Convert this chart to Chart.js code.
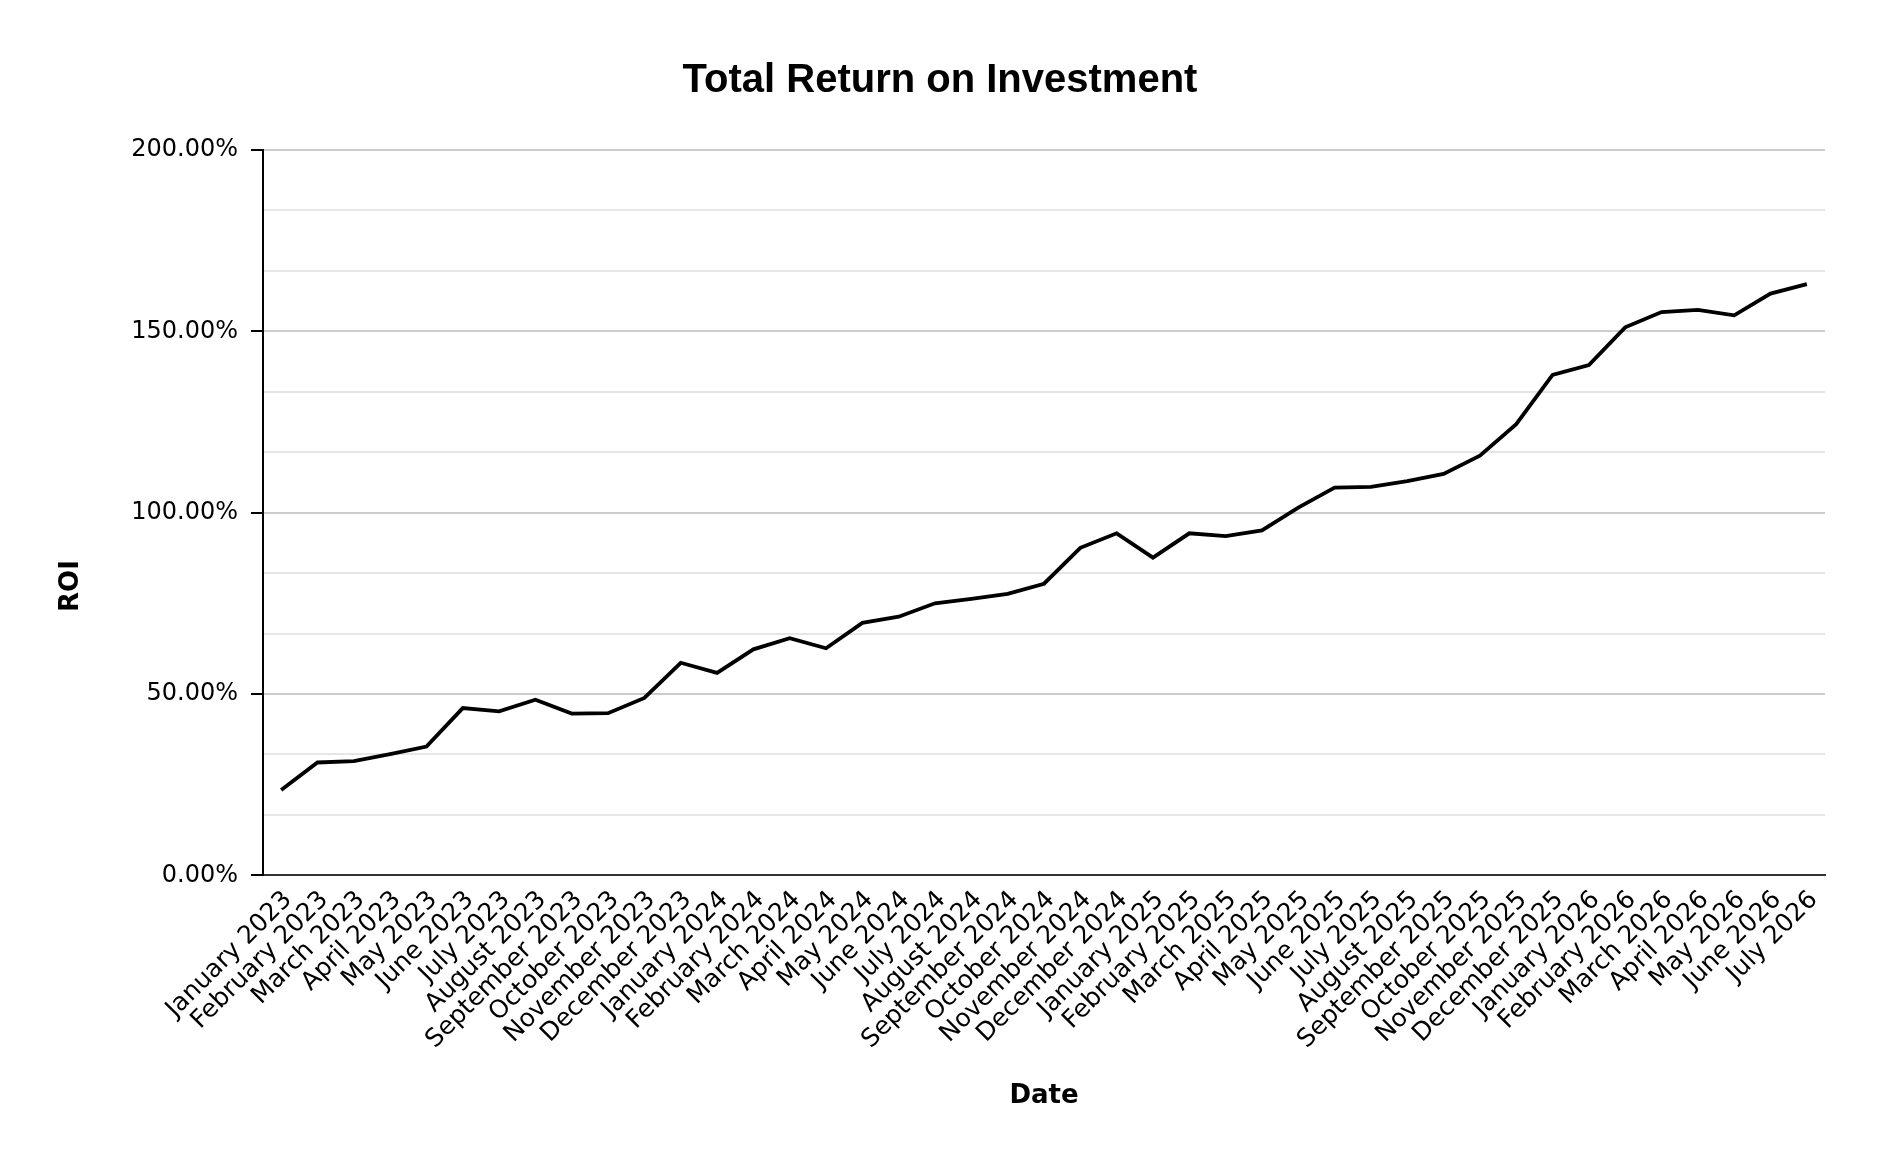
<!DOCTYPE html>
<html>
<head>
<meta charset="utf-8">
<title>Total Return on Investment</title>
<script src="https://cdn.jsdelivr.net/npm/chart.js@4.4.1/dist/chart.umd.min.js"></script>
<style>
    html, body { margin: 0; padding: 0; background: #fff; }
    #wrap { width: 1884px; height: 1166px; }
</style>
</head>
<body>
<div id="wrap"><canvas id="roiChart" width="1884" height="1166"></canvas></div>
<script>
// 月份标签
const dateLabels = [
    "January 2023", "February 2023", "March 2023", "April 2023", "May 2023", "June 2023",
    "July 2023", "August 2023", "September 2023", "October 2023", "November 2023", "December 2023",
    "January 2024", "February 2024", "March 2024", "April 2024", "May 2024", "June 2024",
    "July 2024", "August 2024", "September 2024", "October 2024", "November 2024", "December 2024",
    "January 2025", "February 2025", "March 2025", "April 2025", "May 2025", "June 2025",
    "July 2025", "August 2025", "September 2025", "October 2025", "November 2025", "December 2025",
    "January 2026", "February 2026", "March 2026", "April 2026", "May 2026", "June 2026",
    "July 2026"
];

// ROI (%)
const roiValues = [
    23.5, 31.1, 31.5, 33.4, 35.5, 46.1, 45.2, 48.4, 44.6, 44.7, 48.9, 58.6,
    55.8, 62.3, 65.4, 62.6, 69.6, 71.3, 75.0, 76.2, 77.6, 80.4, 90.3, 94.3,
    87.6, 94.3, 93.5, 95.1, 101.4, 106.9, 107.1, 108.7, 110.7, 115.7, 124.4, 138.0,
    140.7, 151.1, 155.3, 155.9, 154.4, 160.4, 163.0
];

// Y 轴刻度：主刻度带标签，次刻度只画浅色网格
const yMin = 0;
const yMax = 200;
const yMajorStep = 50;
const yMinorPerMajor = 3;

const FONT = "'DejaVu Sans', Verdana, sans-serif";

// y 轴标题居中于整个画布高度，用插件自己画
const roiTitlePlugin = {
    id: "roiTitle",
    afterDraw(chart) {
        const ctx = chart.ctx;
        ctx.save();
        ctx.translate(71, chart.height / 2 + 3);
        ctx.rotate(-Math.PI / 2);
        ctx.font = "bold 26px " + FONT;
        ctx.fillStyle = "#000";
        ctx.textAlign = "center";
        ctx.textBaseline = "middle";
        ctx.fillText("ROI", 0, 0);
        ctx.restore();
    }
};

Chart.defaults.font.family = FONT;
Chart.defaults.color = "#000";

const ctx = document.getElementById("roiChart").getContext("2d");
new Chart(ctx, {
    type: "line",
    data: {
        labels: dateLabels,
        datasets: [{
            label: "ROI",
            data: roiValues,
            borderColor: "#000",
            borderWidth: 3.8,
            pointRadius: 0,
            pointHoverRadius: 0,
            tension: 0,
            fill: false,
        }],
    },
    options: {
        responsive: false,
        devicePixelRatio: 1,
        animation: false,
        layout: { padding: { left: 55, right: 59, top: 0, bottom: 50 } },
        plugins: {
            legend: { display: false },
            tooltip: { enabled: false },
            title: {
                display: true,
                text: "Total Return on Investment",
                color: "#000",
                font: { family: "'Liberation Sans', Arial, sans-serif", size: 40, weight: "bold" },
                padding: { top: 57, bottom: 45 },
            },
        },
        scales: {
            x: {
                offset: true,
                grid: { display: true, drawOnChartArea: false, drawTicks: false },
                border: { display: true, color: "#333", width: 2 },
                ticks: {
                    autoSkip: false,
                    maxRotation: 45,
                    minRotation: 45,
                    padding: 10,
                    labelOffset: 7,
                    color: "#000",
                    font: { size: 25 },
                },
                title: {
                    display: true,
                    text: "Date",
                    color: "#000",
                    font: { size: 26, weight: "bold" },
                    padding: { top: 16, bottom: 4 },
                },
            },
            y: {
                min: yMin,
                max: yMax,
                afterBuildTicks(scale) {
                    const step = yMajorStep / yMinorPerMajor;
                    const n = Math.round((yMax - yMin) / step);
                    const ticks = [];
                    for (let i = 0; i <= n; i++) ticks.push({ value: yMin + i * step });
                    scale.ticks = ticks;
                },
                afterFit(scale) {
                    scale.width = 208;
                },
                grid: {
                    color: (c) => (c.index % yMinorPerMajor === 0 ? "#cccccc" : "#e6e6e6"),
                    lineWidth: 2,
                    tickLength: 12,
                    tickWidth: 2,
                    tickColor: (c) => (c.index % yMinorPerMajor === 0 ? "#000" : "rgba(0,0,0,0)"),
                },
                border: { display: true, color: "#000", width: 2 },
                ticks: {
                    padding: 13,
                    color: "#000",
                    font: { size: 24 },
                    callback: function(v, i) {
                        return i % yMinorPerMajor === 0 ? v.toFixed(2) + "%" : "";
                    },
                },
            },
        },
    },
    plugins: [roiTitlePlugin],
});
</script>
</body>
</html>
